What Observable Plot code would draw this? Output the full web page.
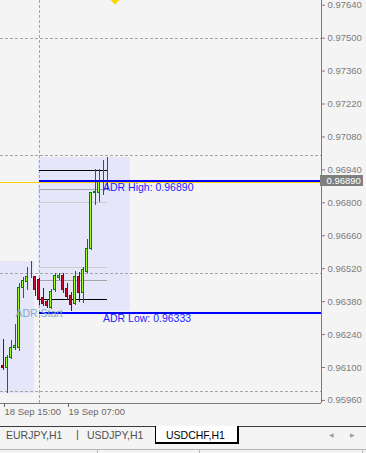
<!DOCTYPE html>
<html>
<head>
<meta charset="utf-8">
<script src="https://cdn.jsdelivr.net/npm/d3@7"></script>
<script src="https://cdn.jsdelivr.net/npm/@observablehq/plot@0.6"></script>
<style>
  html, body { margin: 0; padding: 0; background: #f4f4f4; width: 366px; height: 453px; overflow: hidden;
    font-family: "Liberation Sans", Arial, sans-serif; }
  #chart svg { display: block; }
  #tabs { position: absolute; left: 0; top: 420px; width: 366px; height: 33px; background: #f4f4f4; }
  #tabs .topline { position: absolute; left: 0; top: 6px; width: 366px; height: 1px; background: #3c3c3c; }
  #tabs .tab { position: absolute; top: 9px; font-size: 10.5px; line-height: 12px; color: #505050; white-space: nowrap; }
  #tabs .sep { position: absolute; top: 8px; font-size: 11px; line-height: 12px; color: #505050; }
  #tabs .active { position: absolute; top: 6px; height: 18px; background: #fff; border: 1px solid #000; border-top: none; border-right-width: 2px; border-bottom-width: 2px; box-sizing: border-box; }
  #tabs .active span { position: absolute; left: 10px; top: 3px; font-size: 10.5px; line-height: 12px; color: #000; white-space: nowrap; }
  #tabs .arrow { position: absolute; top: 11px; font-size: 6px; line-height: 8px; color: #a0a0a0; }
  #tabs .status { position: absolute; left: 0; top: 29px; width: 366px; height: 4px; border-top: 1px solid #b4b4b4; box-sizing: border-box; }
  #tabs .vsep { position: absolute; top: 29px; width: 1px; height: 4px; background: #b4b4b4; }
</style>
</head>
<body>
<div id="chart"></div>
<div id="tabs"></div>
<script>
// ---- Data (USDCHF, H1) ----
const candleIndex = [0,1,2,3,4,5,6,7,8,9,10,11,12,13,14,15,16,17,18,19,20,21,22,23,24,25,26];
const open  = [0.96105,0.96100,0.96139,0.96181,0.96185,0.96436,0.96462,0.96483,0.96483,0.96474,0.96394,0.96377,0.96355,0.96428,0.96479,0.96487,0.96432,0.96402,0.96368,0.96483,0.96415,0.96504,0.96602,0.96840,0.96840,0.96887,0.96887];
const high  = [0.96219,0.96151,0.96215,0.96283,0.96457,0.96483,0.96525,0.96551,0.96487,0.96479,0.96436,0.96389,0.96432,0.96500,0.96500,0.96500,0.96457,0.96419,0.96508,0.96504,0.96525,0.96644,0.96844,0.96942,0.96942,0.96980,0.96993];
const low   = [0.96088,0.95990,0.96135,0.96173,0.96168,0.96394,0.96428,0.96479,0.96402,0.96364,0.96360,0.96351,0.96347,0.96419,0.96470,0.96415,0.96385,0.96338,0.96364,0.96377,0.96372,0.96500,0.96598,0.96789,0.96802,0.96831,0.96853];
const close = [0.96096,0.96139,0.96181,0.96190,0.96440,0.96466,0.96483,0.96483,0.96428,0.96385,0.96372,0.96360,0.96423,0.96491,0.96491,0.96428,0.96398,0.96364,0.96483,0.96415,0.96513,0.96602,0.96840,0.96848,0.96887,0.96891,0.96890];

const timeTickIndex  = [0, 16];
const timeTickLabels = ["18 Sep 15:00", "19 Sep 07:00"];
const priceTicks = [0.97640,0.97500,0.97360,0.97220,0.97080,0.96940,0.96800,0.96660,0.96520,0.96380,0.96240,0.96100,0.95960];
const gridPrices = [0.97500, 0.97000, 0.96500, 0.96000];
const gridIndex  = [9];

// ADR day boxes (previous day, current day)
const boxStart  = [-2, 8.875];
const boxEnd    = [7.875, 31.875];
const boxHigh   = [0.96551, 0.96993];
const boxLow    = [0.95990, 0.96338];

// Level lines inside current-day box
const levelPrices = [0.96938, 0.96855, 0.96800, 0.96524, 0.96468, 0.96388];
const levelKind   = ["outer", "mid", "inner", "inner", "mid", "outer"];
const levelFrom = 9, levelTo = 26;

const adrStart = 9;
const adrHigh = 0.96890;
const adrLow  = 0.96333;
const bidPrice = 0.96887;
const currentPrice = 0.96890;
const adrLabelIndex = 25;
const signalIndex = [28];
const signalPrice = [0.97662];

const tabNames = ["EURJPY,H1", "USDJPY,H1", "USDCHF,H1"];
const activeTab = 2;

// ---- Scales ----
const xDomain = [-0.625, 79.625];
const yDomain = [0.95947, 0.97660];

const candles = candleIndex.map((i, k) => ({i, o: open[k], h: high[k], l: low[k], c: close[k]}));
const boxes = boxStart.map((s, k) => ({x1: s, x2: boxEnd[k], top: boxHigh[k], bottom: boxLow[k]}));
const levels = levelPrices.map((p, k) => ({p, kind: levelKind[k]}));
const levelColor = {outer: "#000000", mid: "#a4a4a4", inner: "#cdcdcd"};
const up = d => d.c >= d.o;

const plot = Plot.plot({
  width: 366, height: 420,
  marginLeft: 0, marginRight: 45, marginTop: 0, marginBottom: 17,
  style: {background: "transparent", fontFamily: "'Liberation Sans', Arial, sans-serif", fontSize: "9.5px", overflow: "hidden"},
  x: {type: "linear", domain: xDomain, label: null},
  y: {domain: yDomain, label: null},
  marks: [
    Plot.rect(boxes, {x1: "x1", x2: "x2", y1: "bottom", y2: "top", fill: "#e6e6fa", shapeRendering: "crispEdges"}),
    Plot.ruleY(gridPrices, {stroke: "#a6a6a6", strokeDasharray: "3,2", shapeRendering: "crispEdges"}),
    Plot.ruleX(gridIndex, {stroke: "#a6a6a6", strokeDasharray: "3,2", shapeRendering: "crispEdges"}),
    Plot.ruleY(levels, {y: "p", x1: levelFrom, x2: levelTo, stroke: d => levelColor[d.kind], shapeRendering: "crispEdges"}),
    Plot.ruleY([bidPrice], {stroke: "#f5d000", shapeRendering: "crispEdges"}),
    Plot.ruleX(candles, {x: "i", y1: "l", y2: "h", stroke: d => up(d) ? "#008000" : "#8b0000", shapeRendering: "crispEdges"}),
    Plot.rect(candles, {
      x1: d => d.i - 0.25, x2: d => d.i + 0.25,
      y1: d => Math.min(d.o, d.c), y2: d => Math.max(d.o, d.c),
      fill: d => up(d) ? "#9cff1e" : "#cc0a36",
      stroke: d => up(d) ? "#008000" : "#8b0000",
      shapeRendering: "crispEdges"
    }),
    Plot.ruleY([adrHigh], {x1: adrStart, x2: xDomain[1], stroke: "#0000ff", strokeWidth: 1.5, dy: -0.5, shapeRendering: "crispEdges"}),
    Plot.ruleY([adrLow], {x1: adrStart, x2: xDomain[1], stroke: "#0000ff", strokeWidth: 2, shapeRendering: "crispEdges"}),
    Plot.text([adrHigh], {x: adrLabelIndex, y: d => d, text: d => `ADR High: ${d.toFixed(5)}`, textAnchor: "start", lineAnchor: "top", dy: 2, fill: "#1f1fff", fontSize: 10.5}),
    Plot.text([adrLow], {x: adrLabelIndex, y: d => d, text: d => `ADR Low: ${d.toFixed(5)}`, textAnchor: "start", lineAnchor: "top", dy: 1.5, fill: "#1f1fff", fontSize: 10.5}),
    Plot.text([adrLow], {x: adrStart, y: d => d, text: () => "ADR Start", textAnchor: "middle", lineAnchor: "middle", dy: 1, fill: "#86aac6", fontSize: 10.5}),
    Plot.dot(signalIndex.map((i, k) => ({i, p: signalPrice[k]})), {x: "i", y: "p", symbol: "diamond2", r: 4, fill: "#ffd400", stroke: "none"}),
    Plot.ruleX([xDomain[1]], {stroke: "#7a7a7a", shapeRendering: "crispEdges"}),
    Plot.ruleY([yDomain[0]], {stroke: "#7a7a7a", shapeRendering: "crispEdges"}),
    Plot.axisY(priceTicks, {anchor: "right", tickSize: 3, tickPadding: 3, tickFormat: d => d.toFixed(5), color: "#7c7c7c"}),
    Plot.axisX(timeTickIndex, {anchor: "bottom", tickSize: 4, tickPadding: 1, textAnchor: "start", dx: 1.5,
      tickFormat: i => timeTickLabels[timeTickIndex.indexOf(i)], color: "#6a6a6a"})
  ]
});
document.getElementById("chart").appendChild(plot);

// Current price label on the price axis
const ys = plot.scale("y");
const py = ys.apply(currentPrice);
const svg = d3.select(plot);
const g = svg.append("g").attr("text-anchor", "start");
g.append("rect").attr("x", 320).attr("y", Math.round(py) - 6).attr("width", 43).attr("height", 11).attr("fill", "#7f7f7f").attr("shape-rendering", "crispEdges");
g.append("text").attr("x", 326.5).attr("y", Math.round(py) - 0.5).attr("dy", "0.35em").attr("fill", "#ffffff").attr("text-anchor", "start")
  .attr("font-size", "9.5px").attr("font-family", "'Liberation Sans', Arial, sans-serif").text(currentPrice.toFixed(5));

// Tab bar
const tabs = document.getElementById("tabs");
const tabLeft = [6, 87];
let html = '<div class="topline"></div>';
tabNames.forEach((name, k) => {
  if (k === activeTab) {
    html += `<div class="active" style="left:155px;width:84px"><span>${name}</span></div>`;
  } else {
    html += `<span class="tab" style="left:${tabLeft[k]}px">${name}</span>`;
  }
});
html += '<span class="sep" style="left:76px">|</span>';
html += '<span class="arrow" style="left:329px">&#9664;</span><span class="arrow" style="left:350px">&#9654;</span>';
html += '<div class="status"></div>';
[97, 199, 362].forEach(x => { html += `<div class="vsep" style="left:${x}px"></div>`; });
tabs.innerHTML = html;
</script>
</body>
</html>
